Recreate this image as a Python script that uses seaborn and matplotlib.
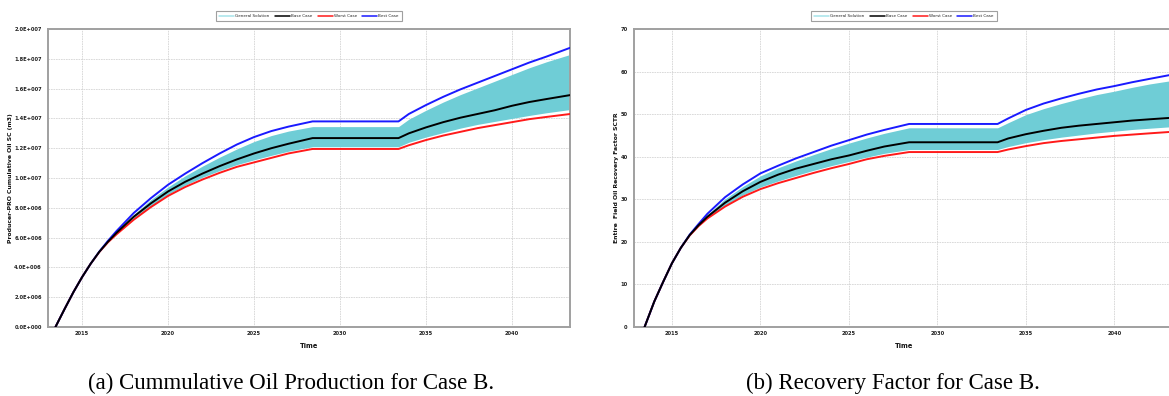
import matplotlib
matplotlib.use('Agg')
import matplotlib.pyplot as plt
import seaborn as sns
import numpy as np
import pandas as pd
from matplotlib.lines import Line2D
from matplotlib.ticker import FuncFormatter

sns.set_theme(style='whitegrid')
plt.rcParams['font.family'] = ['DejaVu Sans']

# Time axis (years) shared by all curves
years = [2013.45, 2014, 2014.5, 2015, 2015.5, 2016, 2016.5, 2017, 2018, 2019, 2020,
         2021, 2022, 2023, 2024, 2025, 2026, 2027, 2028.4, 2033.4, 2034, 2035, 2036,
         2037, 2038, 2039, 2040, 2041, 2042, 2043.4]

# (a) cumulative oil production, millions of m3
oil_base = [0, 1.25, 2.35, 3.35, 4.25, 5.05, 5.72, 6.32, 7.4, 8.3, 9.1, 9.75, 10.3,
            10.8, 11.25, 11.65, 12.0, 12.3, 12.68, 12.68, 13.0, 13.4, 13.75, 14.05,
            14.3, 14.55, 14.85, 15.1, 15.3, 15.57]
oil_worst = [0, 1.25, 2.35, 3.35, 4.25, 5.03, 5.68, 6.22, 7.2, 8.05, 8.8, 9.4, 9.9,
             10.35, 10.75, 11.05, 11.35, 11.65, 11.95, 11.95, 12.2, 12.55, 12.85, 13.1,
             13.35, 13.55, 13.75, 13.95, 14.1, 14.3]
oil_best = [0, 1.25, 2.35, 3.35, 4.25, 5.06, 5.78, 6.44, 7.65, 8.65, 9.55, 10.3, 11.0,
            11.65, 12.25, 12.75, 13.15, 13.45, 13.8, 13.8, 14.3, 14.9, 15.45, 15.95,
            16.4, 16.85, 17.3, 17.75, 18.15, 18.75]
oil_gen_low = [0, 1.25, 2.35, 3.35, 4.25, 5.04, 5.7, 6.26, 7.27, 8.13, 8.9, 9.52, 10.05,
               10.5, 10.9, 11.22, 11.52, 11.8, 12.1, 12.1, 12.4, 12.75, 13.05, 13.35,
               13.6, 13.8, 14.0, 14.2, 14.38, 14.6]
oil_gen_high = [0, 1.25, 2.35, 3.35, 4.25, 5.06, 5.76, 6.4, 7.55, 8.55, 9.4, 10.15, 10.8,
                11.4, 11.95, 12.45, 12.85, 13.15, 13.45, 13.45, 13.95, 14.55, 15.1, 15.6,
                16.05, 16.5, 16.95, 17.4, 17.8, 18.3]

# (b) recovery factor, %
rf_base = [0, 6.0, 10.6, 15.0, 18.6, 21.6, 23.9, 25.9, 29.2, 31.9, 34.1, 35.8, 37.2,
           38.3, 39.4, 40.3, 41.4, 42.4, 43.4, 43.4, 44.3, 45.3, 46.1, 46.8, 47.3, 47.7,
           48.1, 48.5, 48.8, 49.2]
rf_worst = [0, 6.0, 10.6, 15.0, 18.6, 21.5, 23.7, 25.5, 28.3, 30.6, 32.4, 33.8, 35.0,
            36.2, 37.3, 38.3, 39.4, 40.2, 41.1, 41.1, 41.7, 42.5, 43.2, 43.7, 44.1, 44.5,
            44.9, 45.2, 45.5, 45.9]
rf_best = [0, 6.0, 10.6, 15.0, 18.6, 21.7, 24.2, 26.6, 30.5, 33.5, 36.1, 37.9, 39.6,
           41.1, 42.6, 43.9, 45.2, 46.3, 47.7, 47.7, 49.0, 51.0, 52.5, 53.7, 54.8, 55.8,
           56.6, 57.5, 58.3, 59.4]
rf_gen_low = [0, 6.0, 10.6, 15.0, 18.6, 21.5, 23.8, 25.7, 28.6, 31.0, 32.9, 34.3, 35.6,
              36.8, 37.9, 38.9, 39.9, 40.8, 41.7, 41.7, 42.4, 43.3, 44.0, 44.6, 45.1,
              45.6, 46.0, 46.4, 46.7, 47.1]
rf_gen_high = [0, 6.0, 10.6, 15.0, 18.6, 21.7, 24.1, 26.4, 30.1, 33.0, 35.5, 37.4, 39.0,
               40.5, 41.9, 43.2, 44.4, 45.5, 46.8, 46.8, 48.0, 49.9, 51.3, 52.5, 53.6,
               54.6, 55.4, 56.3, 57.1, 58.0]

legend_labels = ['General Solution', 'Base Case', 'Worst Case', 'Best Case']
fan_color = '#6fcdd6'
legend_fan_color = '#a6e3ea'
case_colors = {'Base Case': '#000000', 'Worst Case': '#ff1a1a', 'Best Case': '#1a1aff'}

fig = plt.figure(figsize=(11.69, 3.96), dpi=100)
ax1 = fig.add_axes([0.0411, 0.1742, 0.4465, 0.7525])
ax2 = fig.add_axes([0.5423, 0.1742, 0.4620, 0.7525])


def draw_panel(ax, low, high, base, worst, best, scale):
    df = pd.DataFrame({'Time': years,
                       'Base Case': np.array(base) * scale,
                       'Worst Case': np.array(worst) * scale,
                       'Best Case': np.array(best) * scale})
    ax.fill_between(years, np.array(low) * scale, np.array(high) * scale,
                    color=fan_color, lw=0, zorder=2)
    for name in ['Worst Case', 'Best Case', 'Base Case']:
        sns.lineplot(data=df, x='Time', y=name, ax=ax, color=case_colors[name],
                     lw=1.4, zorder=4, legend=False)
    ax.set_facecolor('white')
    ax.grid(True, color='#d4d4d4', lw=0.6, ls=(0, (2, 1)))
    for s in ax.spines.values():
        s.set_color('#a0a0a0')
        s.set_linewidth(1.4)
    ax.tick_params(axis='both', labelsize=3.7, colors='#a0a0a0', labelcolor='#222222',
                   length=3, width=0.6, pad=1.5)
    ax.tick_params(axis='x', length=0, pad=3)
    ax.set_xticks([2015, 2020, 2025, 2030, 2035, 2040])
    ax.set_xticklabels(['2015', '2020', '2025', '2030', '2035', '2040'],
                       fontsize=3.7, fontweight='bold')
    ax.set_xlabel('Time', fontsize=4.8, fontweight='bold', labelpad=5, color='#111111')
    handles = [Line2D([], [], color=legend_fan_color, lw=1.1)] + \
              [Line2D([], [], color=case_colors[n], lw=1.1) for n in legend_labels[1:]]
    leg = ax.legend(handles, legend_labels, loc='lower center', bbox_to_anchor=(0.5, 1.02),
                    ncol=4, fontsize=3.0, frameon=True, fancybox=False,
                    handlelength=3.6, handletextpad=0.25, columnspacing=1.3,
                    borderpad=0.7)
    leg.get_frame().set_edgecolor('#888888')
    leg.get_frame().set_linewidth(0.8)


def sci_label(v, pos):
    if v <= 0:
        return '0.0E+000'
    e = int(np.floor(np.log10(v)))
    return '{:.1f}E+{:03d}'.format(v / 10 ** e, e)


draw_panel(ax1, oil_gen_low, oil_gen_high, oil_base, oil_worst, oil_best, 1e6)
ax1.set_xlim(2013.02, 2043.37)
ax1.set_ylim(0, 2.0e7)
ax1.set_yticks(np.arange(0, 2.01e7, 2.0e6))
ax1.yaxis.set_major_formatter(FuncFormatter(sci_label))
for lab in ax1.get_yticklabels():
    lab.set_fontweight('bold')
ax1.set_ylabel('Producer-PRO Cumulative Oil SC (m3)', fontsize=4.4, fontweight='bold',
               color='#111111')
ax1.yaxis.set_label_coords(-0.067, 0.5)

draw_panel(ax2, rf_gen_low, rf_gen_high, rf_base, rf_worst, rf_best, 1.0)
ax2.set_xlim(2012.85, 2043.37)
ax2.set_ylim(0, 70)
ax2.set_yticks(np.arange(0, 71, 10))
ax2.set_yticklabels([str(v) for v in range(0, 71, 10)], fontsize=3.7, fontweight='bold')
ax2.set_ylabel('Entire  Field Oil Recovery Factor SCTR', fontsize=4.4, fontweight='bold',
               color='#111111')
ax2.yaxis.set_label_coords(-0.027, 0.5)

# Captions
fig.text(291.5 / 1169, 1 - 383 / 396, '(a) Cummulative Oil Production for Case B.',
         ha='center', va='center', fontsize=16.5, family='Liberation Serif', color='black')
fig.text(893 / 1169, 1 - 383 / 396, '(b) Recovery Factor for Case B.',
         ha='center', va='center', fontsize=16.5, family='Liberation Serif', color='black')

fig.savefig('out.png', dpi=100)
